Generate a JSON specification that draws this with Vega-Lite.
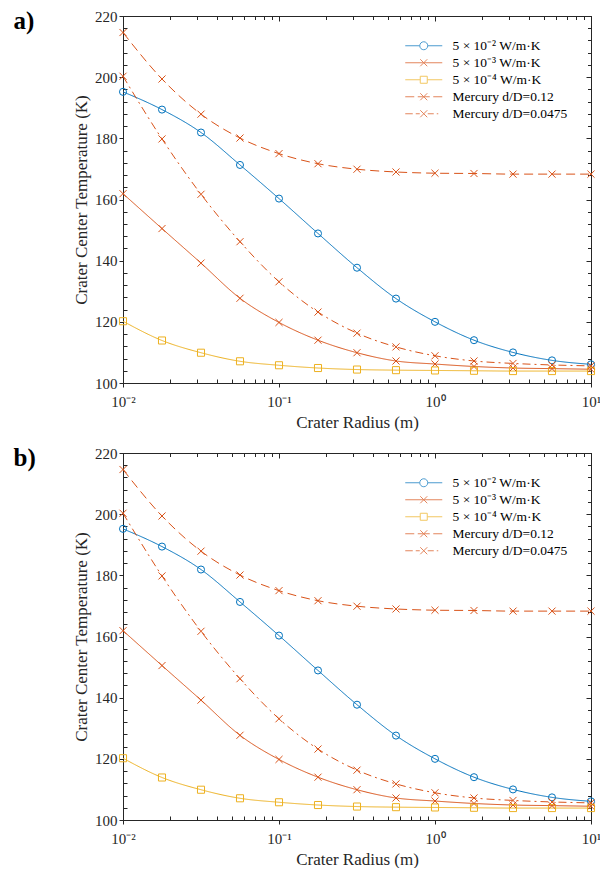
{
  "$schema": "https://vega.github.io/schema/vega-lite/v6.json",
  "padding": {"left": 13, "top": 8, "right": 0, "bottom": 0},
  "background": "white",
  "config": {
    "view": {"stroke": "#262626", "strokeWidth": 1},
    "axis": {
      "labelFont": "Liberation Serif", "titleFont": "Liberation Serif",
      "labelFontSize": 15, "titleFontSize": 17, "titleFontWeight": "normal",
      "labelColor": "#262626", "titleColor": "#262626",
      "domainColor": "#262626", "tickColor": "#262626",
      "domainWidth": 1, "tickWidth": 1, "grid": false,
      "labelOverlap": false, "labelBound": false, "labelFlush": false
    },
    "legend": {
      "orient": "top-right", "offset": 23, "padding": 0,
      "labelFont": "Liberation Serif", "labelFontSize": 13.5, "labelColor": "#000000",
      "symbolSize": 16, "symbolStrokeWidth": 1, "rowPadding": 2,
      "symbolOffset": 12, "labelOffset": 22, "labelLimit": 0
    }
  },
  "datasets": {
    "curves": [
      {"r": 0.01, "T": 195.2, "s": "5 × 10⁻²  W/m·K"},
      {"r": 0.01778, "T": 189.4, "s": "5 × 10⁻²  W/m·K"},
      {"r": 0.03162, "T": 181.9, "s": "5 × 10⁻²  W/m·K"},
      {"r": 0.05623, "T": 171.3, "s": "5 × 10⁻²  W/m·K"},
      {"r": 0.1, "T": 160.3, "s": "5 × 10⁻²  W/m·K"},
      {"r": 0.1778, "T": 148.9, "s": "5 × 10⁻²  W/m·K"},
      {"r": 0.3162, "T": 137.7, "s": "5 × 10⁻²  W/m·K"},
      {"r": 0.5623, "T": 127.6, "s": "5 × 10⁻²  W/m·K"},
      {"r": 1, "T": 120.0, "s": "5 × 10⁻²  W/m·K"},
      {"r": 1.778, "T": 114.0, "s": "5 × 10⁻²  W/m·K"},
      {"r": 3.162, "T": 110.0, "s": "5 × 10⁻²  W/m·K"},
      {"r": 5.623, "T": 107.4, "s": "5 × 10⁻²  W/m·K"},
      {"r": 10, "T": 106.1, "s": "5 × 10⁻²  W/m·K"},
      {"r": 0.01, "T": 161.9, "s": "5 × 10⁻³  W/m·K"},
      {"r": 0.01778, "T": 150.5, "s": "5 × 10⁻³  W/m·K"},
      {"r": 0.03162, "T": 139.2, "s": "5 × 10⁻³  W/m·K"},
      {"r": 0.05623, "T": 127.7, "s": "5 × 10⁻³  W/m·K"},
      {"r": 0.1, "T": 119.8, "s": "5 × 10⁻³  W/m·K"},
      {"r": 0.1778, "T": 114.0, "s": "5 × 10⁻³  W/m·K"},
      {"r": 0.3162, "T": 109.9, "s": "5 × 10⁻³  W/m·K"},
      {"r": 0.5623, "T": 107.2, "s": "5 × 10⁻³  W/m·K"},
      {"r": 1, "T": 106.2, "s": "5 × 10⁻³  W/m·K"},
      {"r": 1.778, "T": 105.4, "s": "5 × 10⁻³  W/m·K"},
      {"r": 3.162, "T": 104.9, "s": "5 × 10⁻³  W/m·K"},
      {"r": 5.623, "T": 104.7, "s": "5 × 10⁻³  W/m·K"},
      {"r": 10, "T": 104.5, "s": "5 × 10⁻³  W/m·K"},
      {"r": 0.01, "T": 120.2, "s": "5 × 10⁻⁴  W/m·K"},
      {"r": 0.01778, "T": 113.9, "s": "5 × 10⁻⁴  W/m·K"},
      {"r": 0.03162, "T": 109.9, "s": "5 × 10⁻⁴  W/m·K"},
      {"r": 0.05623, "T": 107.1, "s": "5 × 10⁻⁴  W/m·K"},
      {"r": 0.1, "T": 105.8, "s": "5 × 10⁻⁴  W/m·K"},
      {"r": 0.1778, "T": 104.9, "s": "5 × 10⁻⁴  W/m·K"},
      {"r": 0.3162, "T": 104.4, "s": "5 × 10⁻⁴  W/m·K"},
      {"r": 0.5623, "T": 104.2, "s": "5 × 10⁻⁴  W/m·K"},
      {"r": 1, "T": 104.1, "s": "5 × 10⁻⁴  W/m·K"},
      {"r": 1.778, "T": 104.0, "s": "5 × 10⁻⁴  W/m·K"},
      {"r": 3.162, "T": 103.9, "s": "5 × 10⁻⁴  W/m·K"},
      {"r": 5.623, "T": 103.9, "s": "5 × 10⁻⁴  W/m·K"},
      {"r": 10, "T": 103.9, "s": "5 × 10⁻⁴  W/m·K"},
      {"r": 0.01, "T": 214.6, "s": "Mercury d/D=0.12"},
      {"r": 0.01778, "T": 199.4, "s": "Mercury d/D=0.12"},
      {"r": 0.03162, "T": 187.9, "s": "Mercury d/D=0.12"},
      {"r": 0.05623, "T": 180.1, "s": "Mercury d/D=0.12"},
      {"r": 0.1, "T": 175.0, "s": "Mercury d/D=0.12"},
      {"r": 0.1778, "T": 171.7, "s": "Mercury d/D=0.12"},
      {"r": 0.3162, "T": 169.9, "s": "Mercury d/D=0.12"},
      {"r": 0.5623, "T": 169.0, "s": "Mercury d/D=0.12"},
      {"r": 1, "T": 168.6, "s": "Mercury d/D=0.12"},
      {"r": 1.778, "T": 168.5, "s": "Mercury d/D=0.12"},
      {"r": 3.162, "T": 168.3, "s": "Mercury d/D=0.12"},
      {"r": 5.623, "T": 168.3, "s": "Mercury d/D=0.12"},
      {"r": 10, "T": 168.3, "s": "Mercury d/D=0.12"},
      {"r": 0.01, "T": 200.3, "s": "Mercury d/D=0.0475"},
      {"r": 0.01778, "T": 179.8, "s": "Mercury d/D=0.0475"},
      {"r": 0.03162, "T": 161.7, "s": "Mercury d/D=0.0475"},
      {"r": 0.05623, "T": 146.2, "s": "Mercury d/D=0.0475"},
      {"r": 0.1, "T": 133.1, "s": "Mercury d/D=0.0475"},
      {"r": 0.1778, "T": 123.2, "s": "Mercury d/D=0.0475"},
      {"r": 0.3162, "T": 116.3, "s": "Mercury d/D=0.0475"},
      {"r": 0.5623, "T": 111.8, "s": "Mercury d/D=0.0475"},
      {"r": 1, "T": 108.9, "s": "Mercury d/D=0.0475"},
      {"r": 1.778, "T": 107.2, "s": "Mercury d/D=0.0475"},
      {"r": 3.162, "T": 106.4, "s": "Mercury d/D=0.0475"},
      {"r": 5.623, "T": 105.9, "s": "Mercury d/D=0.0475"},
      {"r": 10, "T": 105.6, "s": "Mercury d/D=0.0475"}
    ]
  },
  "data": {"name": "curves"},
  "spacing": 14,
  "vconcat": [
    {
      "width": 468, "height": 367,
      "title": {"text": "a)", "anchor": "start", "frame": "bounds", "orient": "top", "offset": 0, "dx": -59, "dy": 25, "fontSize": 25, "font": "Liberation Serif", "fontWeight": "bold", "color": "#000000"},
      "layer": [
        {
          "mark": {"type": "line", "strokeWidth": 1, "interpolate": "monotone"},
          "encoding": {
            "x": {"field": "r", "type": "quantitative", "scale": {"type": "log", "domain": [0.01, 10]},
              "axis": {"orient": "bottom", "title": "Crater Radius (m)", "values": [0.01,0.02,0.03,0.04,0.05,0.06,0.07,0.08,0.09,0.1,0.2,0.3,0.4,0.5,0.6,0.7,0.8,0.9,1,2,3,4,5,6,7,8,9,10],
                "labelExpr": "datum.value == 0.01 ? '10⁻²' : datum.value == 0.1 ? '10⁻¹' : datum.value == 1 ? '10⁰' : datum.value == 10 ? '10¹' : ''",
                "tickSize": {"condition": {"test": "indexof([0.01,0.1,1,10], datum.value) >= 0", "value": 4}, "value": -4},
                "labelPadding": 7, "titlePadding": 5}},
            "y": {"field": "T", "type": "quantitative", "scale": {"domain": [100, 220], "nice": false, "zero": false},
              "axis": {"orient": "left", "title": "Crater Center Temperature (K)", "values": [100,104,108,112,116,120,124,128,132,136,140,144,148,152,156,160,164,168,172,176,180,184,188,192,196,200,204,208,212,216,220],
                "labelExpr": "datum.value % 20 == 0 ? datum.label : ''",
                "tickSize": {"condition": {"test": "datum.value % 20 == 0", "value": 4}, "value": -4},
                "labelPadding": 2, "titlePadding": 4}},
            "color": {"field": "s", "type": "nominal",
              "scale": {"domain": ["5 × 10⁻²  W/m·K", "5 × 10⁻³  W/m·K", "5 × 10⁻⁴  W/m·K", "Mercury d/D=0.12", "Mercury d/D=0.0475"], "range": ["#0072BD", "#D95319", "#EDB120", "#D95319", "#D95319"]},
              "legend": null},
            "strokeDash": {"field": "s", "type": "nominal",
              "scale": {"domain": ["5 × 10⁻²  W/m·K", "5 × 10⁻³  W/m·K", "5 × 10⁻⁴  W/m·K", "Mercury d/D=0.12", "Mercury d/D=0.0475"], "range": [[1,0],[1,0],[1,0],[9,5],[8,4,2,4]]},
              "legend": null}
          }
        },
        {
          "mark": {"type": "point", "filled": false, "strokeWidth": 1, "size": 50, "opacity": 1},
          "encoding": {
            "x": {"field": "r", "type": "quantitative", "scale": {"type": "log", "domain": [0.01, 10]},
              "axis": {"orient": "top", "title": null, "labels": true, "labelExpr": "''", "labelFontSize": 1, "labelPadding": -20, "domain": true, "values": [0.01,0.02,0.03,0.04,0.05,0.06,0.07,0.08,0.09,0.1,0.2,0.3,0.4,0.5,0.6,0.7,0.8,0.9,1,2,3,4,5,6,7,8,9,10],
                "tickSize": {"condition": {"test": "indexof([0.01,0.1,1,10], datum.value) >= 0", "value": -5}, "value": -3.5}}},
            "y": {"field": "T", "type": "quantitative", "scale": {"domain": [100, 220], "nice": false, "zero": false},
              "axis": {"orient": "right", "title": null, "labels": true, "labelExpr": "''", "labelFontSize": 1, "labelPadding": -20, "domain": true, "values": [100,104,108,112,116,120,124,128,132,136,140,144,148,152,156,160,164,168,172,176,180,184,188,192,196,200,204,208,212,216,220],
                "tickSize": {"condition": {"test": "datum.value % 20 == 0", "value": -5}, "value": -3.5}}},
            "color": {"field": "s", "type": "nominal",
              "scale": {"domain": ["5 × 10⁻²  W/m·K", "5 × 10⁻³  W/m·K", "5 × 10⁻⁴  W/m·K", "Mercury d/D=0.12", "Mercury d/D=0.0475"], "range": ["#0072BD", "#D95319", "#EDB120", "#D95319", "#D95319"]},
              "legend": null},
            "shape": {"field": "s", "type": "nominal",
              "scale": {"domain": ["5 × 10⁻²  W/m·K", "5 × 10⁻³  W/m·K", "5 × 10⁻⁴  W/m·K", "Mercury d/D=0.12", "Mercury d/D=0.0475"], "range": ["circle", "M-1,-1L1,1M-1,1L1,-1", "square", "M-1,-1L1,1M-1,1L1,-1", "M-1,-1L1,1M-1,1L1,-1"]},
              "legend": null}
          }
        },
        {
          "transform": [{"filter": "datum.r < 0"}],
          "mark": {"type": "point", "filled": false, "strokeWidth": 1},
          "encoding": {
            "color": {"field": "s", "type": "nominal",
              "scale": {"domain": ["5 × 10⁻²  W/m·K", "5 × 10⁻³  W/m·K", "5 × 10⁻⁴  W/m·K", "Mercury d/D=0.12", "Mercury d/D=0.0475"], "range": ["#0072BD", "#D95319", "#EDB120", "#D95319", "#D95319"]},
              "legend": {"title": null}},
            "shape": {"field": "s", "type": "nominal",
              "scale": {"domain": ["5 × 10⁻²  W/m·K", "5 × 10⁻³  W/m·K", "5 × 10⁻⁴  W/m·K", "Mercury d/D=0.12", "Mercury d/D=0.0475"],
                "range": ["M-9.25,0L-2,0M2,0L9.25,0M2,0A2,2,0,1,1,-2,0A2,2,0,1,1,2,0", "M-9.25,0L9.25,0M-1.75,-1.75L1.75,1.75M-1.75,1.75L1.75,-1.75", "M-9.25,0L-1.75,0M1.75,0L9.25,0M-1.75,-1.75L1.75,-1.75L1.75,1.75L-1.75,1.75Z", "M-9.25,0L-4.75,0M-3,0L3,0M4.75,0L9.25,0M-1.75,-1.75L1.75,1.75M-1.75,1.75L1.75,-1.75", "M-9.25,0L-5.5,0M-4,0L-2,0M2,0L5,0M6.5,0L7.25,0M-1.75,-1.75L1.75,1.75M-1.75,1.75L1.75,-1.75"]},
              "legend": {"title": null}}
          }
        }
      ],
      "resolve": {"scale": {"x": "independent", "y": "independent", "color": "independent", "shape": "independent", "strokeDash": "independent"}}
    },
    {
      "width": 468, "height": 367,
      "title": {"text": "b)", "anchor": "start", "frame": "bounds", "orient": "top", "offset": 0, "dx": -59, "dy": 25, "fontSize": 25, "font": "Liberation Serif", "fontWeight": "bold", "color": "#000000"},
      "layer": [
        {
          "mark": {"type": "line", "strokeWidth": 1, "interpolate": "monotone"},
          "encoding": {
            "x": {"field": "r", "type": "quantitative", "scale": {"type": "log", "domain": [0.01, 10]},
              "axis": {"orient": "bottom", "title": "Crater Radius (m)", "values": [0.01,0.02,0.03,0.04,0.05,0.06,0.07,0.08,0.09,0.1,0.2,0.3,0.4,0.5,0.6,0.7,0.8,0.9,1,2,3,4,5,6,7,8,9,10],
                "labelExpr": "datum.value == 0.01 ? '10⁻²' : datum.value == 0.1 ? '10⁻¹' : datum.value == 1 ? '10⁰' : datum.value == 10 ? '10¹' : ''",
                "tickSize": {"condition": {"test": "indexof([0.01,0.1,1,10], datum.value) >= 0", "value": 4}, "value": -4},
                "labelPadding": 7, "titlePadding": 5}},
            "y": {"field": "T", "type": "quantitative", "scale": {"domain": [100, 220], "nice": false, "zero": false},
              "axis": {"orient": "left", "title": "Crater Center Temperature (K)", "values": [100,104,108,112,116,120,124,128,132,136,140,144,148,152,156,160,164,168,172,176,180,184,188,192,196,200,204,208,212,216,220],
                "labelExpr": "datum.value % 20 == 0 ? datum.label : ''",
                "tickSize": {"condition": {"test": "datum.value % 20 == 0", "value": 4}, "value": -4},
                "labelPadding": 2, "titlePadding": 4}},
            "color": {"field": "s", "type": "nominal",
              "scale": {"domain": ["5 × 10⁻²  W/m·K", "5 × 10⁻³  W/m·K", "5 × 10⁻⁴  W/m·K", "Mercury d/D=0.12", "Mercury d/D=0.0475"], "range": ["#0072BD", "#D95319", "#EDB120", "#D95319", "#D95319"]},
              "legend": null},
            "strokeDash": {"field": "s", "type": "nominal",
              "scale": {"domain": ["5 × 10⁻²  W/m·K", "5 × 10⁻³  W/m·K", "5 × 10⁻⁴  W/m·K", "Mercury d/D=0.12", "Mercury d/D=0.0475"], "range": [[1,0],[1,0],[1,0],[9,5],[8,4,2,4]]},
              "legend": null}
          }
        },
        {
          "mark": {"type": "point", "filled": false, "strokeWidth": 1, "size": 50, "opacity": 1},
          "encoding": {
            "x": {"field": "r", "type": "quantitative", "scale": {"type": "log", "domain": [0.01, 10]},
              "axis": {"orient": "top", "title": null, "labels": true, "labelExpr": "''", "labelFontSize": 1, "labelPadding": -20, "domain": true, "values": [0.01,0.02,0.03,0.04,0.05,0.06,0.07,0.08,0.09,0.1,0.2,0.3,0.4,0.5,0.6,0.7,0.8,0.9,1,2,3,4,5,6,7,8,9,10],
                "tickSize": {"condition": {"test": "indexof([0.01,0.1,1,10], datum.value) >= 0", "value": -5}, "value": -3.5}}},
            "y": {"field": "T", "type": "quantitative", "scale": {"domain": [100, 220], "nice": false, "zero": false},
              "axis": {"orient": "right", "title": null, "labels": true, "labelExpr": "''", "labelFontSize": 1, "labelPadding": -20, "domain": true, "values": [100,104,108,112,116,120,124,128,132,136,140,144,148,152,156,160,164,168,172,176,180,184,188,192,196,200,204,208,212,216,220],
                "tickSize": {"condition": {"test": "datum.value % 20 == 0", "value": -5}, "value": -3.5}}},
            "color": {"field": "s", "type": "nominal",
              "scale": {"domain": ["5 × 10⁻²  W/m·K", "5 × 10⁻³  W/m·K", "5 × 10⁻⁴  W/m·K", "Mercury d/D=0.12", "Mercury d/D=0.0475"], "range": ["#0072BD", "#D95319", "#EDB120", "#D95319", "#D95319"]},
              "legend": null},
            "shape": {"field": "s", "type": "nominal",
              "scale": {"domain": ["5 × 10⁻²  W/m·K", "5 × 10⁻³  W/m·K", "5 × 10⁻⁴  W/m·K", "Mercury d/D=0.12", "Mercury d/D=0.0475"], "range": ["circle", "M-1,-1L1,1M-1,1L1,-1", "square", "M-1,-1L1,1M-1,1L1,-1", "M-1,-1L1,1M-1,1L1,-1"]},
              "legend": null}
          }
        },
        {
          "transform": [{"filter": "datum.r < 0"}],
          "mark": {"type": "point", "filled": false, "strokeWidth": 1},
          "encoding": {
            "color": {"field": "s", "type": "nominal",
              "scale": {"domain": ["5 × 10⁻²  W/m·K", "5 × 10⁻³  W/m·K", "5 × 10⁻⁴  W/m·K", "Mercury d/D=0.12", "Mercury d/D=0.0475"], "range": ["#0072BD", "#D95319", "#EDB120", "#D95319", "#D95319"]},
              "legend": {"title": null}},
            "shape": {"field": "s", "type": "nominal",
              "scale": {"domain": ["5 × 10⁻²  W/m·K", "5 × 10⁻³  W/m·K", "5 × 10⁻⁴  W/m·K", "Mercury d/D=0.12", "Mercury d/D=0.0475"],
                "range": ["M-9.25,0L-2,0M2,0L9.25,0M2,0A2,2,0,1,1,-2,0A2,2,0,1,1,2,0", "M-9.25,0L9.25,0M-1.75,-1.75L1.75,1.75M-1.75,1.75L1.75,-1.75", "M-9.25,0L-1.75,0M1.75,0L9.25,0M-1.75,-1.75L1.75,-1.75L1.75,1.75L-1.75,1.75Z", "M-9.25,0L-4.75,0M-3,0L3,0M4.75,0L9.25,0M-1.75,-1.75L1.75,1.75M-1.75,1.75L1.75,-1.75", "M-9.25,0L-5.5,0M-4,0L-2,0M2,0L5,0M6.5,0L7.25,0M-1.75,-1.75L1.75,1.75M-1.75,1.75L1.75,-1.75"]},
              "legend": {"title": null}}
          }
        }
      ],
      "resolve": {"scale": {"x": "independent", "y": "independent", "color": "independent", "shape": "independent", "strokeDash": "independent"}}
    }
  ]
}
